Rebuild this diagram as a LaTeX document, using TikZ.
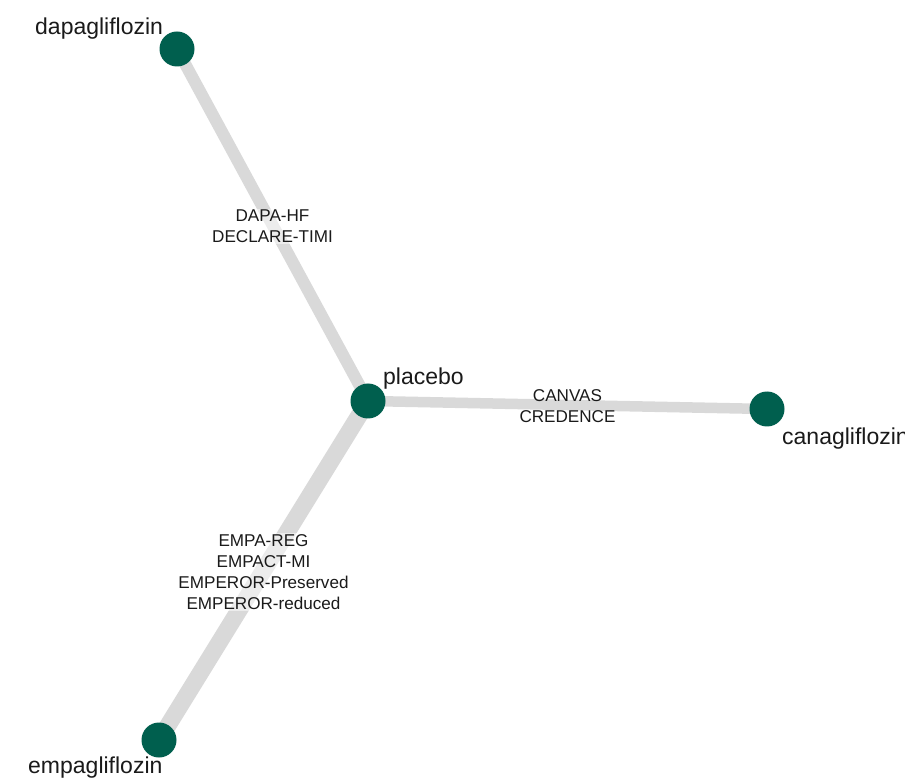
\documentclass[tikz,border=0pt]{standalone}
\usepackage{fontspec}
\setmainfont{Liberation Sans}
\usetikzlibrary{calc}
\definecolor{nodegreen}{HTML}{005F4E}
\definecolor{edgegrey}{HTML}{D9D9D9}
\definecolor{txt}{HTML}{1A1A1A}
\begin{document}
\begin{tikzpicture}[x=1pt,y=-1pt,
  dot/.style={circle,fill=nodegreen,draw=none,minimum size=35pt,inner sep=0pt},
  edge/.style={draw=edgegrey,line cap=butt},
  nlabel/.style={anchor=base west,inner sep=0pt,text=txt,font=\fontsize{23}{27}\selectfont},
  elabel/.style={align=center,inner sep=1pt,text=txt,font=\fontsize{17.1}{21.2}\selectfont},
  halo/.style={fill=white,fill opacity=0.5,text opacity=1}]
\clip (0,0) rectangle (905,783);
\fill[white] (0,0) rectangle (905,783);
\coordinate (d) at (177,49);
\coordinate (p) at (368,401);
\coordinate (c) at (767,409);
\coordinate (e) at (159,740);
\draw[edge,line width=12pt] (p) -- (d);
\draw[edge,line width=10.5pt] (p) -- (c);
\draw[edge,line width=17pt] (p) -- (e);
\node[elabel,halo] (ld) at ($(d)!0.5!(p)+(0,1.5)$) {DAPA-HF\\DECLARE-TIMI};
\node[elabel] (lc) at ($(p)!0.5!(c)+(0,1)$) {CANVAS\\CREDENCE};
\node[elabel,halo] (le) at ($(p)!0.5!(e)+(0,1.5)$) {EMPA-REG\\EMPACT-MI\\EMPEROR-Preserved\\EMPEROR-reduced};
\node[dot] (nd) at (d) {};
\node[dot] (np) at (p) {};
\node[dot] (nc) at (c) {};
\node[dot] (ne) at (e) {};
\node[nlabel] (td) at (35,35) {dapagliflozin};
\node[nlabel] (tp) at (383,385) {placebo};
\node[nlabel] (tc) at (782,445) {canagliflozin};
\node[nlabel] (te) at (28,773) {empagliflozin};
\end{tikzpicture}
\end{document}
